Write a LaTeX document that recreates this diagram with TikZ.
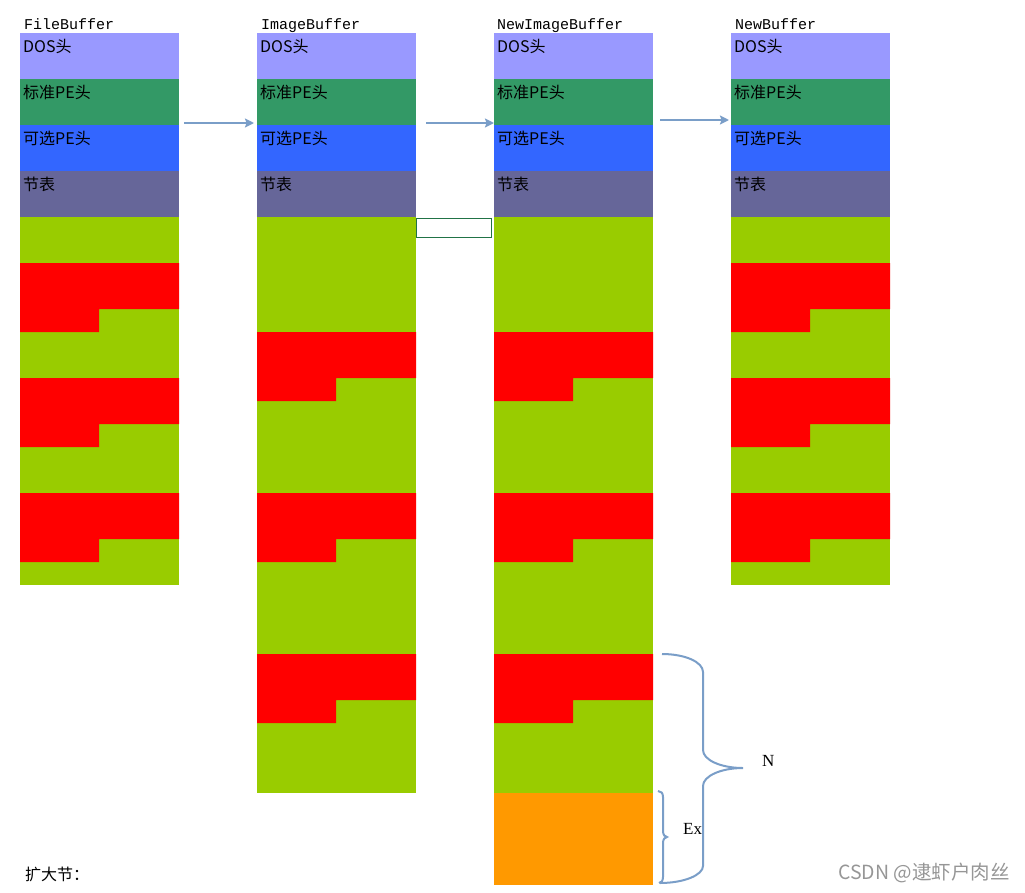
\documentclass[tikz,border=0pt]{standalone}
\usepackage{fontspec}
\usepackage{xcolor}
\usepackage{tikz}
\usetikzlibrary{arrows.meta, positioning}
\setmainfont{Liberation Serif}
\setmonofont{Liberation Mono}
\newfontfamily\cjk{Noto Sans CJK SC}
\definecolor{dosblue}{RGB}{153,153,255}
\definecolor{stdgreen}{RGB}{51,153,102}
\definecolor{optblue}{RGB}{51,102,255}
\definecolor{sectgray}{RGB}{102,102,153}
\definecolor{datagreen}{RGB}{153,204,0}
\definecolor{datared}{RGB}{255,0,0}
\definecolor{extorange}{RGB}{255,153,0}
\definecolor{linkblue}{RGB}{122,158,200}
\definecolor{boxgreen}{RGB}{33,115,70}
\definecolor{markgray}{RGB}{150,150,150}
\tikzset{
  buftitle/.style={anchor=base west, inner sep=0pt,
    font=\ttfamily\fontsize{15}{15}\selectfont},
  hdrtext/.style={anchor=base west, inner sep=0pt,
    font=\cjk\fontsize{16}{16}\selectfont, color=black},
  sidelabel/.style={anchor=base west, inner sep=0pt,
    font=\fontsize{17}{17}\selectfont},
  link/.style={-{Stealth[length=9pt, width=9pt, inset=1.5pt]},
    line width=2.2pt, color=linkblue},
  bracestroke/.style={line width=2pt, color=linkblue}
}

\begin{document}
\begin{tikzpicture}[x=1pt, y=-1pt]
  \useasboundingbox (0,0) rectangle (1025,892);

  % ── FileBuffer ─────────────────────────────────────────────
  \begin{scope}[xshift=20pt]
    \node[buftitle] (fbTitle) at (4,29) {FileBuffer};
    \fill[dosblue] (0,33) rectangle (159,79);
    \fill[stdgreen] (0,79) rectangle (159,125);
    \fill[optblue] (0,125) rectangle (159,171);
    \fill[sectgray] (0,171) rectangle (159,217);
    \node[hdrtext] (fbDos) at (3,52) {DOS头};
    \node[hdrtext] (fbStd) at (3,98) {标准PE头};
    \node[hdrtext] (fbOpt) at (3,144) {可选PE头};
    \node[hdrtext] (fbSec) at (3,190) {节表};
    % Sections (raw, file-aligned)
    \fill[datagreen] (0,217) rectangle (159,585);
    \fill[datared] (0,263) -- (159,263) -- (159,309) -- (79,309) -- (79,332) -- (0,332) -- cycle;
    \fill[datared] (0,378) -- (159,378) -- (159,424) -- (79,424) -- (79,447) -- (0,447) -- cycle;
    \fill[datared] (0,493) -- (159,493) -- (159,539) -- (79,539) -- (79,562) -- (0,562) -- cycle;
  \end{scope}

  % ── ImageBuffer ────────────────────────────────────────────
  \begin{scope}[xshift=257pt]
    \node[buftitle] (ibTitle) at (4,29) {ImageBuffer};
    \fill[dosblue] (0,33) rectangle (159,79);
    \fill[stdgreen] (0,79) rectangle (159,125);
    \fill[optblue] (0,125) rectangle (159,171);
    \fill[sectgray] (0,171) rectangle (159,217);
    \node[hdrtext] (ibDos) at (3,52) {DOS头};
    \node[hdrtext] (ibStd) at (3,98) {标准PE头};
    \node[hdrtext] (ibOpt) at (3,144) {可选PE头};
    \node[hdrtext] (ibSec) at (3,190) {节表};
    % Sections (memory-aligned)
    \fill[datagreen] (0,217) rectangle (159,793);
    \fill[datared] (0,332) -- (159,332) -- (159,378) -- (79,378) -- (79,401) -- (0,401) -- cycle;
    \fill[datared] (0,493) -- (159,493) -- (159,539) -- (79,539) -- (79,562) -- (0,562) -- cycle;
    \fill[datared] (0,654) -- (159,654) -- (159,700) -- (79,700) -- (79,723) -- (0,723) -- cycle;
  \end{scope}

  % Room left for a new section header
  \draw[boxgreen, line width=1pt] (416.5,218.5) rectangle (491.5,237.5);

  % ── NewImageBuffer ─────────────────────────────────────────
  \begin{scope}[xshift=494pt]
    \node[buftitle] (nibTitle) at (3,29) {NewImageBuffer};
    \fill[dosblue] (0,33) rectangle (159,79);
    \fill[stdgreen] (0,79) rectangle (159,125);
    \fill[optblue] (0,125) rectangle (159,171);
    \fill[sectgray] (0,171) rectangle (159,217);
    \node[hdrtext] (nibDos) at (3,52) {DOS头};
    \node[hdrtext] (nibStd) at (3,98) {标准PE头};
    \node[hdrtext] (nibOpt) at (3,144) {可选PE头};
    \node[hdrtext] (nibSec) at (3,190) {节表};
    % Sections plus the added one
    \fill[datagreen] (0,217) rectangle (159,793);
    \fill[datared] (0,332) -- (159,332) -- (159,378) -- (79,378) -- (79,401) -- (0,401) -- cycle;
    \fill[datared] (0,493) -- (159,493) -- (159,539) -- (79,539) -- (79,562) -- (0,562) -- cycle;
    \fill[datared] (0,654) -- (159,654) -- (159,700) -- (79,700) -- (79,723) -- (0,723) -- cycle;
    \fill[extorange] (0,793) rectangle (159,885);
  \end{scope}

  % ── NewBuffer ──────────────────────────────────────────────
  \begin{scope}[xshift=731pt]
    \node[buftitle] (nbTitle) at (4,29) {NewBuffer};
    \fill[dosblue] (0,33) rectangle (159,79);
    \fill[stdgreen] (0,79) rectangle (159,125);
    \fill[optblue] (0,125) rectangle (159,171);
    \fill[sectgray] (0,171) rectangle (159,217);
    \node[hdrtext] (nbDos) at (3,52) {DOS头};
    \node[hdrtext] (nbStd) at (3,98) {标准PE头};
    \node[hdrtext] (nbOpt) at (3,144) {可选PE头};
    \node[hdrtext] (nbSec) at (3,190) {节表};
    \fill[datagreen] (0,217) rectangle (159,585);
    \fill[datared] (0,263) -- (159,263) -- (159,309) -- (79,309) -- (79,332) -- (0,332) -- cycle;
    \fill[datared] (0,378) -- (159,378) -- (159,424) -- (79,424) -- (79,447) -- (0,447) -- cycle;
    \fill[datared] (0,493) -- (159,493) -- (159,539) -- (79,539) -- (79,562) -- (0,562) -- cycle;
  \end{scope}

  % ── Arrows between buffers ─────────────────────────────────
  \coordinate (fbOut) at (184,123);
  \coordinate (ibIn) at (254,123);
  \coordinate (ibOut) at (426,123);
  \coordinate (nibIn) at (494,123);
  \coordinate (nibOut) at (660,120);
  \coordinate (nbIn) at (729,120);
  \draw[link] (fbOut) -- (ibIn);
  \draw[link] (ibOut) -- (nibIn);
  \draw[link] (nibOut) -- (nbIn);

  % ── Braces ─────────────────────────────────────────────────
  \draw[bracestroke] (662,654) .. controls (685,654) and (703,662) .. (703,672)
    -- (703,750) .. controls (703,760) and (721,768) .. (743,768)
    .. controls (721,768) and (703,776) .. (703,786)
    -- (703,866) .. controls (703,875) and (684,883) .. (660,883);
  \node[sidelabel] (nLabel) at (762,766) {N};
  \draw[bracestroke] (658,791) .. controls (661,791) and (663,793) .. (663,797)
    -- (663,831) .. controls (663,835) and (665,837) .. (667,837)
    .. controls (665,837) and (663,839) .. (663,843)
    -- (663,877) .. controls (663,881) and (661,883) .. (659,883);
  \node[sidelabel] (exLabel) at (683,834) {Ex};

  % ── Notes ──────────────────────────────────────────────────
  \node[hdrtext] (extNote) at (25,880) {扩大节：};
  \node[anchor=base west, inner sep=0pt, font=\cjk\fontsize{19.5}{19.5}\selectfont,
    color=markgray] (mark) at (838,879) {CSDN @逮虾户肉丝};
\end{tikzpicture}
\end{document}
